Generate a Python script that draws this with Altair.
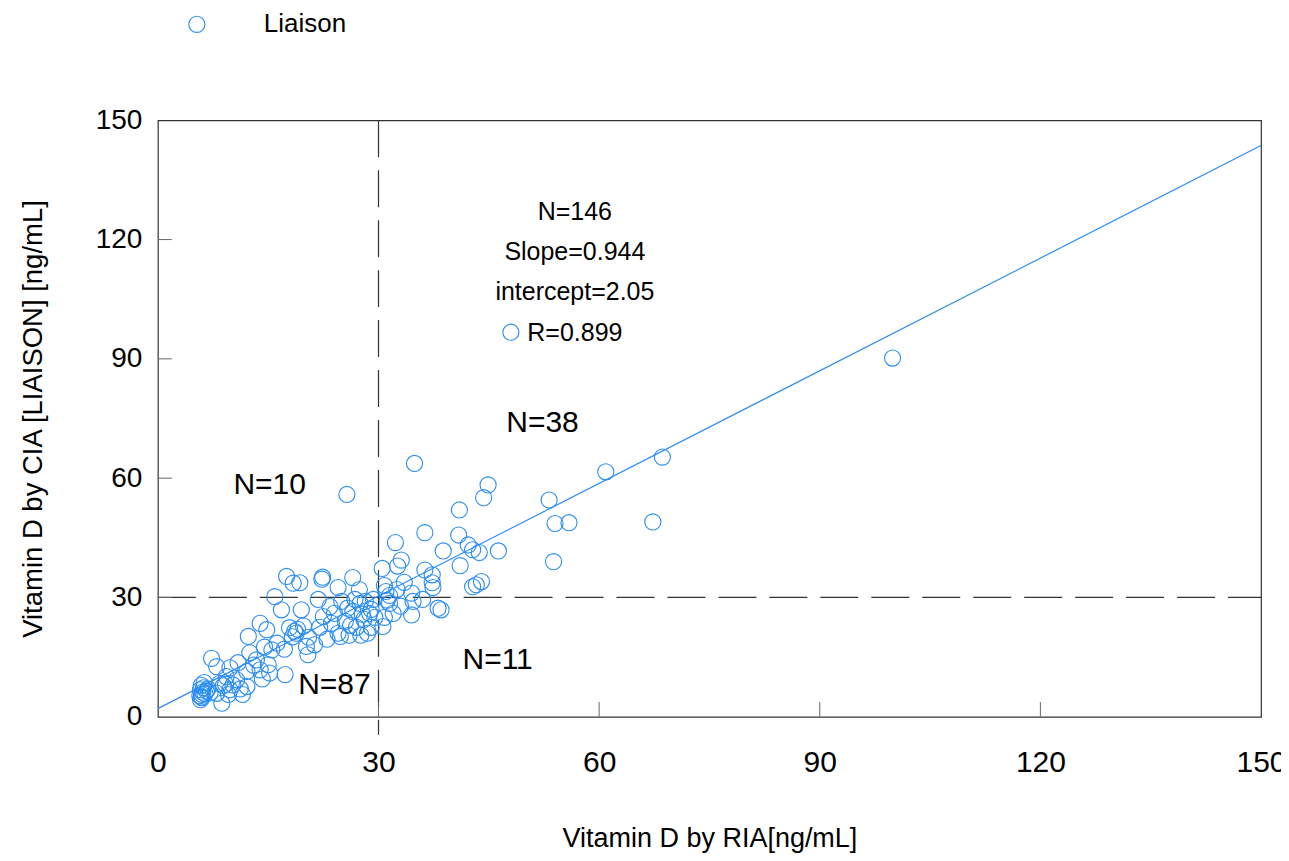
import altair as alt
import pandas as pd

# ---- scatter data: Vitamin D by RIA (x) vs CIA LIAISON (y), ng/mL ----
ria = [
    # lower-left cluster
    5.8, 5.9, 6.0, 6.1, 5.8, 6.2, 5.9, 6.3, 6.0, 6.4, 6.6, 5.7, 6.8, 7.1,
    7.3, 8.0, 8.7, 8.0, 8.4, 9.3, 9.8, 9.6, 9.8, 10.7, 10.9, 8.9, 9.2, 10.2, 11.2, 11.5, 12.1, 12.1,
    12.3, 12.5, 13.4, 13.9, 13.9, 14.8, 15.0, 15.2, 14.2, 15.5, 16.2, 17.3, 16.8, 13.0, 14.5,
    17.9, 18.8, 18.3, 19.0, 18.6, 19.5, 20.2, 20.4, 21.3, 19.8, 20.5, 17.2,
    22.5, 23.6, 23.4, 22.0, 24.5, 25.0, 25.5, 26.0, 26.5, 27.0, 27.5, 28.0, 28.5, 29.0,
    29.5, 24.0, 26.8, 28.2, 29.3, 25.8, 23.0, 27.6, 29.0, 24.8, 21.8, 28.8, 26.2, 27.8,
    # upper-left
    25.7, 22.4, 17.5, 18.4, 22.3, 19.3, 26.5, 27.4, 24.5, 15.9,
    # lower-right
    34.7, 38.5, 38.1, 34.5, 30.6, 31.5, 32.0, 33.0, 36.0, 30.8, 31.2,
    # upper-right
    34.9, 44.9, 44.3, 41.0, 53.2, 60.9, 54.0, 55.9, 53.8, 36.3, 32.3, 40.9, 38.8, 42.2,
    42.8, 43.7, 46.3, 41.1, 33.1, 32.6, 30.5, 36.3, 37.3, 37.4, 37.3, 42.8, 44.0, 43.3,
    34.5, 68.6, 67.3, 99.9, 48.0, 31.0, 30.8, 32.5, 31.5, 33.5,
]
cia = [
    4.3, 5.0, 5.6, 6.2, 6.8, 7.3, 7.9, 8.6, 4.8, 5.8, 6.5, 5.3, 7.0, 6.0,
    14.7, 12.6, 3.4, 5.9, 8.4, 10.1, 6.8, 5.6, 12.3, 9.3, 13.6, 7.8, 8.2, 8.0, 7.0, 5.6, 7.6, 11.4,
    20.2, 16.1, 14.3, 11.8, 23.5, 21.9, 13.1, 11.0, 9.5, 16.8, 18.5, 10.6, 26.9, 13.0, 17.5,
    22.4, 21.0, 20.1, 22.0, 21.5, 26.9, 17.7, 15.6, 18.1, 22.8, 20.0, 17.0,
    25.2, 23.5, 27.7, 22.5, 21.0, 29.0, 24.0, 20.5, 26.5, 22.5, 28.5, 24.5, 21.0, 27.0,
    25.0, 26.0, 29.5, 29.0, 29.5, 27.3, 19.5, 20.5, 22.5, 20.2, 29.5, 26.0, 23.0, 25.8,
    55.9, 35.1, 35.3, 33.6, 34.6, 33.7, 35.0, 32.0, 32.5, 30.2,
    29.0, 26.9, 27.3, 25.6, 22.7, 28.5, 26.0, 27.8, 29.5, 25.0, 29.3,
    63.7, 58.3, 55.1, 52.0, 54.5, 61.6, 48.6, 48.8, 39.0, 46.3, 43.8, 45.7, 41.7, 43.2,
    42.0, 41.3, 41.7, 38.0, 39.4, 37.9, 37.3, 36.9, 35.7, 32.5, 33.7, 32.7, 34.0, 33.2,
    31.1, 65.3, 49.0, 90.2, 96.7, 31.5, 33.0, 32.0, 30.5, 33.8,
]
series_name = "Liaison"

# regression fit
slope = 0.944
intercept = 2.05
fit_x = [0, 150]

# cut-off lines
cutoff = 30

# tick values
tick_values = [0, 30, 60, 90, 120, 150]
inner_ticks = [30, 60, 90, 120]

# annotation texts
stat_text = ["N=146", "Slope=0.944", "intercept=2.05", "R=0.899"]
stat_x = [56.7, 56.7, 56.7, 56.7]
stat_y = [126.9, 116.8, 106.8, 96.5]

quad_text = ["N=38", "N=10", "N=87", "N=11"]
quad_x = [52.3, 15.2, 24.0, 46.2]
quad_y = [73.9, 58.3, 8.0, 14.3]

BLUE = "#2a8cf5"
FONT = "Liberation Sans"

pts = pd.DataFrame({"ria": ria, "cia": cia, "series": [series_name] * len(ria)})
fit = pd.DataFrame({"ria": fit_x, "cia": [slope * v + intercept for v in fit_x]})
stats = pd.DataFrame({"x": stat_x, "y": stat_y, "t": stat_text})
quads = pd.DataFrame({"x": quad_x, "y": quad_y, "t": quad_text})
xt = pd.DataFrame({"v": inner_ticks, "lo": [0] * 4, "hi": [3.7] * 4})
yt = pd.DataFrame({"v": inner_ticks, "lo": [0] * 4, "hi": [1.9] * 4})
hc = pd.DataFrame({"v": [cutoff], "lo": [0], "hi": [150]})
vc = pd.DataFrame({"v": [cutoff], "lo": [-4.5], "hi": [150]})

xscale = alt.Scale(domain=[0, 150], nice=False, zero=False)
yscale = alt.Scale(domain=[0, 150], nice=False, zero=False)

xaxis = alt.Axis(values=tick_values, grid=False, ticks=False, domain=False,
                 labelFontSize=30, labelFont=FONT, labelColor="#000",
                 labelPadding=31, labelFlush=False,
                 title="Vitamin D by RIA[ng/mL]", titleFontSize=27, titleFont=FONT,
                 titleFontWeight="normal", titleColor="#000", titlePadding=48)
yaxis = alt.Axis(values=tick_values, grid=False, ticks=False, domain=False,
                 labelFontSize=28, labelFont=FONT, labelColor="#000",
                 labelPadding=16, labelFlush=False,
                 title="Vitamin D by CIA [LIAISON] [ng/mL]", titleFontSize=27.5,
                 titleFont=FONT, titleFontWeight="normal", titleColor="#000",
                 titlePadding=48)

points = alt.Chart(pts).mark_point(shape="circle", filled=False, size=260,
                                   strokeWidth=1.1, opacity=1).encode(
    x=alt.X("ria:Q", scale=xscale, axis=xaxis),
    y=alt.Y("cia:Q", scale=yscale, axis=yaxis),
    color=alt.Color("series:N", scale=alt.Scale(range=[BLUE]),
                    legend=alt.Legend(orient="none", legendX=26, legendY=-109,
                                      title=None, labelFontSize=26, labelFont=FONT,
                                      labelColor="#000", symbolSize=260,
                                      symbolStrokeWidth=1.1, symbolType="circle",
                                      labelOffset=54)),
)

fit_line = alt.Chart(fit).mark_line(color=BLUE, strokeWidth=1.2, clip=True).encode(
    x=alt.X("ria:Q", scale=xscale), y=alt.Y("cia:Q", scale=yscale))

hcut = alt.Chart(hc).mark_rule(color="#333", strokeWidth=1.2, strokeDash=[38, 13]).encode(
    x=alt.X("lo:Q", scale=xscale), x2="hi:Q", y=alt.Y("v:Q", scale=yscale))
vcut = alt.Chart(vc).mark_rule(color="#333", strokeWidth=1.2, strokeDash=[37, 13]).encode(
    y=alt.Y("hi:Q", scale=yscale), y2="lo:Q", x=alt.X("v:Q", scale=xscale))

xticks = alt.Chart(xt).mark_rule(color="#666", strokeWidth=1).encode(
    x=alt.X("v:Q", scale=xscale), y=alt.Y("lo:Q", scale=yscale), y2="hi:Q")
yticks = alt.Chart(yt).mark_rule(color="#666", strokeWidth=1).encode(
    y=alt.Y("v:Q", scale=yscale), x=alt.X("lo:Q", scale=xscale), x2="hi:Q")

stat_layer = alt.Chart(stats).mark_text(fontSize=25, font=FONT, color="#000",
                                        align="center", baseline="middle").encode(
    x=alt.X("x:Q", scale=xscale), y=alt.Y("y:Q", scale=yscale), text="t:N")
quad_layer = alt.Chart(quads).mark_text(fontSize=30, font=FONT, color="#000",
                                        align="center", baseline="middle").encode(
    x=alt.X("x:Q", scale=xscale), y=alt.Y("y:Q", scale=yscale), text="t:N")

chart = alt.layer(hcut, vcut, xticks, yticks, fit_line, points, stat_layer, quad_layer).properties(
    width=1104, height=597,
    padding={"left": 150, "top": 112, "right": 20, "bottom": 142},
    autosize=alt.AutoSizeParams(type="none"),
    background="white",
).configure_view(stroke="#333", strokeWidth=1.2)

chart.save("out.html", embed_options={"renderer": "svg", "actions": False})
